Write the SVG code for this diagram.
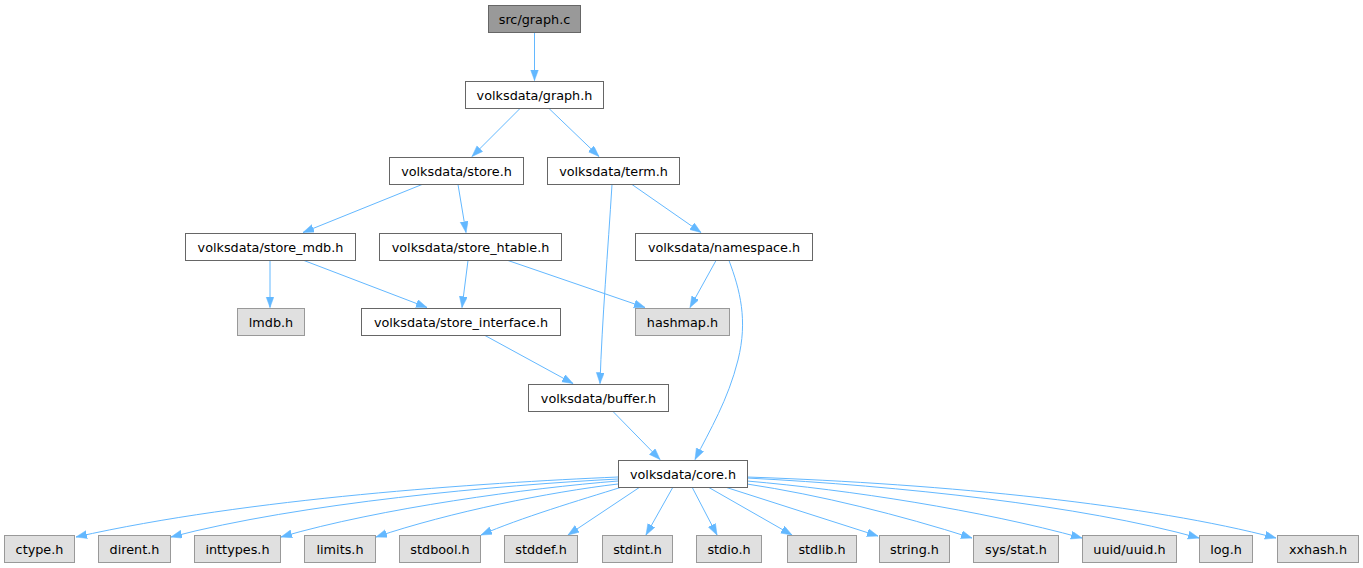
<svg xmlns="http://www.w3.org/2000/svg" width="1363" height="568" viewBox="0 0 1363 568">
<style>
text{font-family:"DejaVu Sans","Liberation Sans",sans-serif;font-size:12.8px;fill:#000;text-anchor:middle}
.n rect{fill:#fff;stroke:#666;stroke-width:1}
.root rect{fill:#999;stroke:#666;stroke-width:1}
.leaf rect{fill:#e0e0e0;stroke:#999;stroke-width:1}
#edges path{fill:none;stroke:#63b8ff;stroke-width:1;marker-end:url(#arr)}
</style>
<defs>
<marker id="arr" markerUnits="userSpaceOnUse" markerWidth="12" markerHeight="9" refX="11" refY="4" orient="auto">
<path d="M0,0 L11,4 L0,8 z" fill="#63b8ff" stroke="#63b8ff" stroke-width="0.5"/>
</marker>
</defs>
<rect width="1363" height="568" fill="#fff"/>
<g id="edges">
<path d="M534.5,32.5 L534.5,80.5"/>
<path d="M520,108.5 L472,156.5"/>
<path d="M549,108.5 L599,156.5"/>
<path d="M422,184.5 L303,232.5"/>
<path d="M458,184.5 L466,232.5"/>
<path d="M612,184.5 C608,250 602,320 600,383.5"/>
<path d="M632,184.5 L701,232.5"/>
<path d="M270,260.5 L270,307.5"/>
<path d="M304,260.5 L427,307.5"/>
<path d="M468,260.5 L462,307.5"/>
<path d="M508,260.5 L645,307.5"/>
<path d="M716,260.5 L690,307.5"/>
<path d="M729,260.5 C740,290 748,320 738,360 C728,400 710,430 695,459.5"/>
<path d="M485,335.5 L573,383.5"/>
<path d="M613,411.5 L660,459.5"/>
<path d="M618,477 C480,483 250,498 76,537"/>
<path d="M618,479 C500,485 300,503 171,537"/>
<path d="M618,481 C530,488 380,508 281,537"/>
<path d="M618,484 C550,492 450,512 376,537"/>
<path d="M622,487 C580,500 520,518 481,535"/>
<path d="M640,487 L568,535"/>
<path d="M673,487 L646,535"/>
<path d="M692,487 L717,535"/>
<path d="M708,487 L792,535"/>
<path d="M725,487 L878,536"/>
<path d="M747,484 C820,495 900,515 972,538"/>
<path d="M747,481 C850,490 980,510 1082,538"/>
<path d="M747,478 C900,486 1080,505 1199,538"/>
<path d="M747,477 C950,484 1150,505 1276,538"/>
</g>
<g id="graph_c" class="root"><rect x="488.5" y="5.5" width="92" height="27"/><text x="534.5" y="23.6">src/graph.c</text></g>
<g id="graph_h" class="n"><rect x="465.5" y="81.5" width="138" height="27"/><text x="534.5" y="99.6">volksdata/graph.h</text></g>
<g id="store_h" class="n"><rect x="389.5" y="157.5" width="134" height="27"/><text x="456.5" y="175.6">volksdata/store.h</text></g>
<g id="term_h" class="n"><rect x="547.5" y="157.5" width="132" height="27"/><text x="613.5" y="175.6">volksdata/term.h</text></g>
<g id="store_mdb_h" class="n"><rect x="185.5" y="233.5" width="170" height="27"/><text x="270.5" y="251.6">volksdata/store_mdb.h</text></g>
<g id="store_htable_h" class="n"><rect x="379.5" y="233.5" width="182" height="27"/><text x="470.5" y="251.6">volksdata/store_htable.h</text></g>
<g id="namespace_h" class="n"><rect x="635.5" y="233.5" width="177" height="27"/><text x="724" y="251.6">volksdata/namespace.h</text></g>
<g id="lmdb_h" class="leaf"><rect x="237.5" y="308.5" width="67" height="27"/><text x="271" y="326.6">lmdb.h</text></g>
<g id="store_interface_h" class="n"><rect x="361.5" y="308.5" width="199" height="27"/><text x="461" y="326.6">volksdata/store_interface.h</text></g>
<g id="hashmap_h" class="leaf"><rect x="635.5" y="308.5" width="94" height="27"/><text x="682.5" y="326.6">hashmap.h</text></g>
<g id="buffer_h" class="n"><rect x="528.5" y="384.5" width="140" height="27"/><text x="598.5" y="402.6">volksdata/buffer.h</text></g>
<g id="core_h" class="n"><rect x="618.5" y="460.5" width="129" height="27"/><text x="683" y="478.6">volksdata/core.h</text></g>
<g id="ctype_h" class="leaf"><rect x="4.5" y="535.5" width="70" height="27"/><text x="39.5" y="553.6">ctype.h</text></g>
<g id="dirent_h" class="leaf"><rect x="98.5" y="535.5" width="72" height="27"/><text x="134.5" y="553.6">dirent.h</text></g>
<g id="inttypes_h" class="leaf"><rect x="194.5" y="535.5" width="86" height="27"/><text x="237.5" y="553.6">inttypes.h</text></g>
<g id="limits_h" class="leaf"><rect x="304.5" y="535.5" width="71" height="27"/><text x="340" y="553.6">limits.h</text></g>
<g id="stdbool_h" class="leaf"><rect x="399.5" y="535.5" width="81" height="27"/><text x="440" y="553.6">stdbool.h</text></g>
<g id="stddef_h" class="leaf"><rect x="504.5" y="535.5" width="73" height="27"/><text x="541" y="553.6">stddef.h</text></g>
<g id="stdint_h" class="leaf"><rect x="602.5" y="535.5" width="70" height="27"/><text x="637.5" y="553.6">stdint.h</text></g>
<g id="stdio_h" class="leaf"><rect x="696.5" y="535.5" width="65" height="27"/><text x="729" y="553.6">stdio.h</text></g>
<g id="stdlib_h" class="leaf"><rect x="787.5" y="535.5" width="69" height="27"/><text x="822" y="553.6">stdlib.h</text></g>
<g id="string_h" class="leaf"><rect x="879.5" y="535.5" width="70" height="27"/><text x="914.5" y="553.6">string.h</text></g>
<g id="sys_stat_h" class="leaf"><rect x="973.5" y="535.5" width="85" height="27"/><text x="1016" y="553.6">sys/stat.h</text></g>
<g id="uuid_h" class="leaf"><rect x="1082.5" y="535.5" width="94" height="27"/><text x="1129.5" y="553.6">uuid/uuid.h</text></g>
<g id="log_h" class="leaf"><rect x="1199.5" y="535.5" width="53" height="27"/><text x="1226" y="553.6">log.h</text></g>
<g id="xxhash_h" class="leaf"><rect x="1277.5" y="535.5" width="81" height="27"/><text x="1318" y="553.6">xxhash.h</text></g>
</svg>
